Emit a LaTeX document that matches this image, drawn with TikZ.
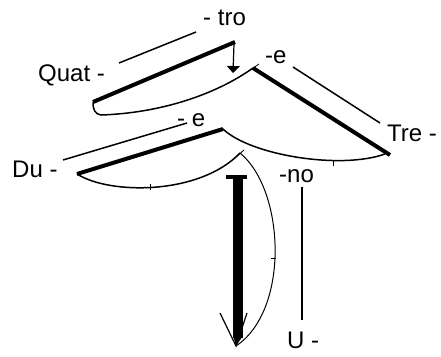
\documentclass[tikz,border=0pt]{standalone}
\usepackage{fontspec}
\setmainfont{Liberation Sans}
\usetikzlibrary{arrows.meta}
\begin{document}
\begin{tikzpicture}[x=1pt,y=-1pt,
  lbl/.style={anchor=base west,inner sep=0pt,font=\fontsize{24}{28}\selectfont},
  thinline/.style={line width=1.5pt},
  thickline/.style={line width=4pt},
  curveline/.style={line width=1.5pt},
  hairline/.style={line width=1pt},
  tick/.style={line width=0.8pt}]
\useasboundingbox (0,0) rectangle (441,356);
% labels
\node[lbl] (tro) at (203,25) {- tro};
\node[lbl] (quat) at (38,81) {Quat -};
\node[lbl] (e1) at (265,63) {-e};
\node[lbl] (tre) at (387,141) {Tre -};
\node[lbl] (e2) at (177,126) {- e};
\node[lbl] (du) at (12,177) {Du -};
\node[lbl] (no) at (279,182) {-no};
\node[lbl] (u) at (287,348) {U -};
% coordinates
\coordinate (q1) at (119,63);  \coordinate (q2) at (196,32);
\coordinate (qa) at (93,102);  \coordinate (qb) at (235,42);
\coordinate (ar1) at (234,44); \coordinate (ar2) at (233,73);
\coordinate (qh) at (101,115); \coordinate (apex) at (253,68);
\coordinate (ta) at (390,155);
\coordinate (t1) at (293,67);  \coordinate (t2) at (380,123);
\coordinate (mid) at (223,129); \coordinate (tc) at (385,154);
\coordinate (d1) at (63,160);  \coordinate (d2) at (187,123);
\coordinate (da) at (77,174);  \coordinate (dend) at (240,153);
\coordinate (bt) at (238,177); \coordinate (bb) at (238,338);
\coordinate (bl) at (226,177); \coordinate (br) at (247,177);
\coordinate (tip) at (236,346);
\coordinate (hl) at (220,313); \coordinate (hr) at (247,313);
\coordinate (n1) at (302,187); \coordinate (n2) at (302,320);
% Quat
\draw[thinline] (q1) -- (q2);
\draw[thickline] (qa) -- (qb);
\draw[line width=1.2pt,-{Triangle[width=13pt,length=7pt]}] (ar1) -- (ar2);
\draw[curveline] (qa) .. controls (93,110) and (95,114) .. (qh)
  .. controls (160,113) and (215,95) .. (apex);
\draw[tick] (249,71) -- (259,64);
% Tre
\draw[thickline] (apex) -- (ta);
\draw[thinline] (t1) -- (t2);
\draw[curveline] (mid) .. controls (250,155) and (340,170) .. (tc);
\draw[tick] (333,160) -- (333,166);
% Du
\draw[thinline] (d1) -- (d2);
\draw[thickline] (da) -- (mid);
\draw[curveline] (da) .. controls (110,195) and (200,195) .. (dend);
\draw[tick] (150,184) -- (150,190);
\draw[tick] (236,157) -- (244,150);
% arc
\draw[hairline] (dend) .. controls (285,190) and (290,310) .. (tip);
\draw[tick] (271,258) -- (276,258);
% big arrow
\draw[line width=4pt] (bl) -- (br);
\draw[line width=9.5pt] (bt) -- (bb);
\fill (233.2,336) -- (242.8,336) -- (tip) -- cycle;
\draw[line width=1.2pt] (hl) -- (tip) -- (hr);
% U
\draw[line width=2.5pt] (n1) -- (n2);
\end{tikzpicture}
\end{document}
